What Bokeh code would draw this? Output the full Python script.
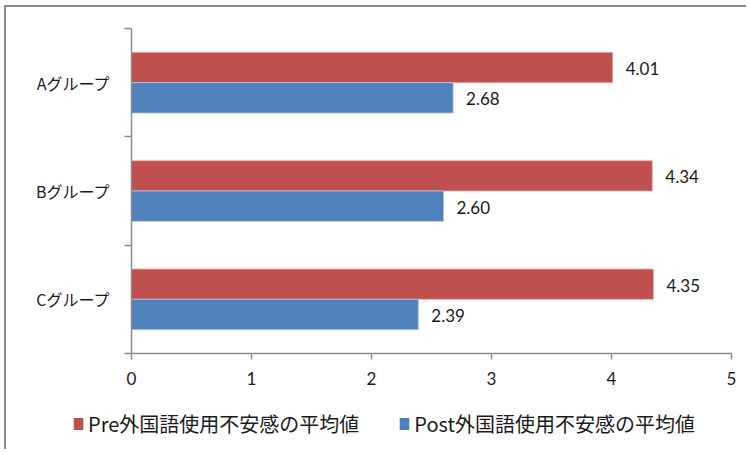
from bokeh.plotting import figure
from bokeh.layouts import column
from bokeh.models import Range1d, FixedTicker, Legend, LegendItem, ColumnDataSource
from bokeh.core.properties import value
from bokeh.embed import file_html
from bokeh.resources import INLINE

groups = ["Aグループ", "Bグループ", "Cグループ"]
pre = [4.01, 4.34, 4.35]
post = [2.68, 2.60, 2.39]
pre_name = "Pre外国語使用不安感の平均値"
post_name = "Post外国語使用不安感の平均値"
x_ticks = [0, 1, 2, 3, 4, 5]

RED = "#C0504D"
BLUE = "#4F81BD"
AXIS = "#8c8c8c"
JP = "Noto Sans CJK JP"
NUM = "Lato"

n = len(groups)
centers = [n - i - 0.5 for i in range(n)]
bh = 0.28

src_pre = ColumnDataSource(dict(y=[c + bh / 2 for c in centers], v=pre,
                                lab=["%.2f" % v for v in pre]))
src_post = ColumnDataSource(dict(y=[c - bh / 2 for c in centers], v=post,
                                 lab=["%.2f" % v for v in post]))

p = figure(width=740, height=386, x_range=Range1d(0, 5), y_range=Range1d(0, n),
           output_backend="svg", toolbar_location=None,
           min_border_left=125, min_border_right=15, min_border_top=21,
           min_border_bottom=40)
p.outline_line_color = None
p.grid.visible = False
p.background_fill_color = "white"
p.border_fill_color = "white"

p.hbar(y="y", right="v", left=0, height=bh, source=src_pre,
       fill_color=RED, line_color="#e8b0ae", line_width=0.8)
p.hbar(y="y", right="v", left=0, height=bh, source=src_post,
       fill_color=BLUE, line_color="#b0c6e2", line_width=0.8)

for s in (src_pre, src_post):
    p.text(x="v", y="y", text="lab", source=s, x_offset=13, y_offset=1,
           text_baseline="middle", text_align="left",
           text_font=value(NUM), text_font_size="17px", text_color="#1a1a1a")

xa = p.xaxis[0]
xa.ticker = FixedTicker(ticks=x_ticks)
xa.axis_line_color = AXIS
xa.axis_line_width = 1.5
xa.major_tick_line_color = AXIS
xa.major_tick_line_width = 1.5
xa.major_tick_out = 6
xa.major_tick_in = 0
xa.minor_tick_line_color = None
xa.major_label_standoff = 12
xa.major_label_text_font = NUM
xa.major_label_text_font_size = "17px"
xa.major_label_text_color = "#1a1a1a"

ya = p.yaxis[0]
ya.ticker = FixedTicker(ticks=centers, minor_ticks=list(range(n + 1)))
ya.major_label_overrides = {c: g for c, g in zip(centers, groups)}
ya.axis_line_color = AXIS
ya.axis_line_width = 1.5
ya.major_tick_line_color = None
ya.major_tick_out = 0
ya.major_tick_in = 0
ya.minor_tick_line_color = AXIS
ya.minor_tick_line_width = 1.5
ya.minor_tick_out = 7
ya.minor_tick_in = 0
ya.major_label_standoff = 14
ya.major_label_text_font = JP
ya.major_label_text_font_size = "16px"
ya.major_label_text_color = "#1a1a1a"

# legend strip (its own frame spans the full width; data lie outside its range)
lg = figure(width=740, height=56, x_range=Range1d(0, 1), y_range=Range1d(100, 101),
            x_axis_type=None, y_axis_type=None, output_backend="svg",
            toolbar_location=None, min_border=0)
lg.frame_align = False
lg.outline_line_color = None
lg.grid.visible = False
lg.border_fill_color = "white"
lr_pre = lg.hbar(y="y", right="v", left=0, height=bh, source=src_pre,
                 fill_color=RED, line_color=None)
lr_post = lg.hbar(y="y", right="v", left=0, height=bh, source=src_post,
                  fill_color=BLUE, line_color=None)
legend = Legend(items=[LegendItem(label=pre_name, renderers=[lr_pre]),
                       LegendItem(label=post_name, renderers=[lr_post])],
                orientation="horizontal", location=(66, 11),
                glyph_width=12, glyph_height=15, label_standoff=4, spacing=39,
                label_text_font=JP, label_text_font_size="20px",
                label_text_color="#1a1a1a", border_line_color=None,
                background_fill_alpha=0, padding=0, margin=0)
lg.add_layout(legend, "center")

layout = column(p, lg, spacing=0)
layout.styles = {"border-left": "2px solid #8c8c8c", "border-top": "2px solid #8c8c8c",
                 "margin-left": "4px", "margin-top": "5px"}

open("out.html", "w").write(file_html(layout, INLINE))
